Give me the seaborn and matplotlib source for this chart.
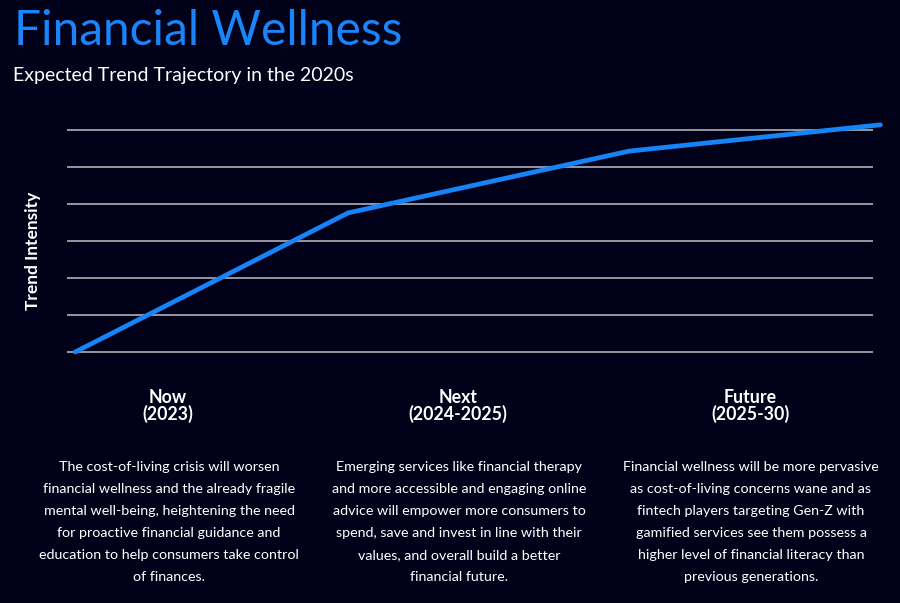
import pandas as pd
import matplotlib.pyplot as plt
import seaborn as sns

# Veriler
stages = [0, 1, 2.03, 2.95]
intensity = [0.0, 3.76, 5.43, 6.14]
grid_levels = [0, 1, 2, 3, 4, 5, 6]

headers = ["Now\n(2023)", "Next\n(2024-2025)", "Future\n(2025-30)"]
header_x = [168, 458, 750]
bodies = [
    "The cost-of-living crisis will worsen\n"
    "financial wellness and the already fragile\n"
    "mental well-being, heightening the need\n"
    "for proactive financial guidance and\n"
    "education to help consumers take control\n"
    "of finances.",
    "Emerging services like financial therapy\n"
    "and more accessible and engaging online\n"
    "advice will empower more consumers to\n"
    "spend, save and invest in line with their\n"
    "values, and overall build a better\n"
    "financial future.",
    "Financial wellness will be more pervasive\n"
    "as cost-of-living concerns wane and as\n"
    "fintech players targeting Gen-Z with\n"
    "gamified services see them possess a\n"
    "higher level of financial literacy than\n"
    "previous generations.",
]

BG = '#01021a'
BLUE = '#1683f7'
W, H = 900, 603

sns.set_theme(style='white')
plt.rcParams['font.family'] = ['Lato', 'DejaVu Sans']

df = pd.DataFrame({'stage': stages, 'intensity': intensity})

fig = plt.figure(figsize=(9, 6.03), dpi=100, facecolor=BG)
# eksen: ızgara çizgileri x=67..873, y=130..352 piksel
pad = 11.1
ax = fig.add_axes([67 / W, 1 - (352 + pad) / H, (873 - 67) / W, (222 + 2 * pad) / H])
ax.set_facecolor(BG)

sns.lineplot(data=df, x='stage', y='intensity', ax=ax, color=BLUE,
             linewidth=3.4, clip_on=False, zorder=3)

ax.set_xlim(-0.03, 2.923)
ax.set_ylim(-0.3, 6.3)
ax.set_yticks(grid_levels)
ax.set_xticks([])
ax.tick_params(left=False, labelleft=False)
ax.yaxis.grid(True, color='#bfbfc4', linewidth=1.1)
ax.xaxis.grid(False)
for s in ax.spines.values():
    s.set_visible(False)
ax.set_xlabel('')
ax.set_ylabel('')

fig.text(33 / W, 1 - 251 / H, 'Trend Intensity', rotation=90, color='white',
         fontsize=12.5, fontweight='bold', ha='center', va='center')

fig.text(14 / W, 1 - 31 / H, 'Financial Wellness', color='#1a85fa',
         fontsize=34.5, ha='left', va='center')
fig.text(13 / W, 1 - 76 / H, 'Expected Trend Trajectory in the 2020s',
         color='white', fontsize=14, ha='left', va='center')

for hx, head, body in zip(header_x, headers, bodies):
    fig.text(hx / W, 1 - 406 / H, head, color='white', fontsize=12.8,
             fontweight='bold', ha='center', va='center', linespacing=0.92)
    fig.text((hx + 1) / W, 1 - 522 / H, body, color='white', fontsize=10.3,
             ha='center', va='center', linespacing=2.0)

fig.savefig('out.png', dpi=100, facecolor=BG)
